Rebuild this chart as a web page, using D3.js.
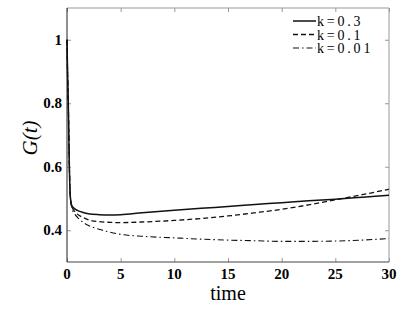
<html>
<head>
<script src="https://d3js.org/d3.v7.min.js"></script>
<style>
  body { margin: 0; background: #fff; }
  .axis .domain { display: none; }
  .axis line { stroke: #999; }
  text { font-family: "Liberation Serif", "Times New Roman", "DejaVu Serif", "Noto Serif", serif; }
</style>
</head>
<body>
<div id="chart"></div>
<script>
// data
const times   = [0, 0.05, 0.12, 0.22, 0.3, 0.45, 0.7, 1, 1.5, 2, 3, 4, 5, 7, 10, 12.5, 15, 17.5, 20, 22.5, 25, 27.5, 30];
const gK03    = [1, 0.9, 0.8, 0.6, 0.51, 0.478, 0.468, 0.462, 0.456, 0.452, 0.449, 0.448, 0.449, 0.455, 0.463, 0.469, 0.475, 0.481, 0.487, 0.493, 0.498, 0.504, 0.51];
const gK01    = [1, 0.9, 0.8, 0.6, 0.51, 0.475, 0.46, 0.45, 0.44, 0.433, 0.427, 0.425, 0.424, 0.426, 0.431, 0.437, 0.445, 0.455, 0.466, 0.48, 0.496, 0.512, 0.529];
const gK001   = [1, 0.9, 0.8, 0.6, 0.51, 0.47, 0.452, 0.44, 0.425, 0.415, 0.403, 0.394, 0.387, 0.381, 0.376, 0.372, 0.369, 0.367, 0.365, 0.365, 0.366, 0.369, 0.374];
const seriesNames = ["k=0.3", "k=0.1", "k=0.01"];
const xTicks = [0, 5, 10, 15, 20, 25, 30];
const yTicks = [0.4, 0.6, 0.8, 1];

const width = 415, height = 312;
const margins = {top: 8, right: 26, bottom: 50, left: 67};
const chartWidth = width - margins.left - margins.right;
const chartHeight = height - margins.top - margins.bottom;

const svg = d3.select("#chart").append("svg")
  .attr("width", width).attr("height", height);
const chartArea = svg.append("g")
  .attr("transform", `translate(${margins.left}, ${margins.top})`);

const xScale = d3.scaleLinear().domain([0, 30]).range([0, chartWidth]);
const yScale = d3.scaleLinear().domain([0.3, 1.1]).range([chartHeight, 0]);

// inward ticks on all four sides
chartArea.append("g").attr("class", "axis")
  .attr("transform", `translate(0, ${chartHeight})`)
  .call(d3.axisBottom(xScale).tickValues(xTicks).tickSize(-4).tickFormat(""));
chartArea.append("g").attr("class", "axis")
  .call(d3.axisTop(xScale).tickValues(xTicks).tickSize(-4).tickFormat(""));
chartArea.append("g").attr("class", "axis")
  .call(d3.axisLeft(yScale).tickValues(yTicks).tickSize(-4).tickFormat(""));
chartArea.append("g").attr("class", "axis")
  .attr("transform", `translate(${chartWidth}, 0)`)
  .call(d3.axisRight(yScale).tickValues(yTicks).tickSize(-4).tickFormat(""));

// frame
chartArea.append("line").attr("x1", 0).attr("x2", chartWidth).attr("y1", 0).attr("y2", 0).attr("stroke", "#999");
chartArea.append("line").attr("x1", chartWidth).attr("x2", chartWidth).attr("y1", 0).attr("y2", chartHeight).attr("stroke", "#999");
chartArea.append("line").attr("x1", 0).attr("x2", chartWidth).attr("y1", chartHeight).attr("y2", chartHeight).attr("stroke", "#444");
chartArea.append("line").attr("x1", 0).attr("x2", 0).attr("y1", 0).attr("y2", chartHeight).attr("stroke", "#222");

// tick labels
chartArea.selectAll("text.xt").data(xTicks).join("text")
  .attr("class", "xt")
  .attr("x", d => xScale(d)).attr("y", chartHeight + 17)
  .attr("text-anchor", "middle")
  .style("font-weight", "bold").style("font-size", "15px")
  .text(d => d);
chartArea.selectAll("text.yt").data(yTicks).join("text")
  .attr("class", "yt")
  .attr("x", -5).attr("y", d => yScale(d) + 5)
  .attr("text-anchor", "end")
  .style("font-weight", "bold").style("font-size", "15px")
  .text(d => d);

// axis titles
svg.append("text")
  .attr("x", margins.left + chartWidth / 2).attr("y", 300)
  .attr("text-anchor", "middle")
  .style("font-size", "20px")
  .text("time");
svg.append("text")
  .attr("transform", "translate(37, 138) rotate(-90)")
  .attr("text-anchor", "middle")
  .style("font-style", "italic").style("font-size", "21px")
  .text("G(t)");

// curves
const series = [gK03, gK01, gK001];
const dashes = [null, "5,3", "6,3,1.5,3"];
const widths = [1.5, 1.3, 1.1];
const lineGen = d3.line()
  .x((d, i) => xScale(times[i]))
  .y(d => yScale(d))
  .curve(d3.curveMonotoneX);

series.forEach((s, i) => {
  chartArea.append("path")
    .datum(s)
    .attr("fill", "none")
    .attr("stroke", "#111")
    .attr("stroke-width", widths[i])
    .attr("stroke-dasharray", dashes[i])
    .attr("d", lineGen);
});

// legend
const legend = svg.append("g").attr("transform", "translate(293, 21)");
seriesNames.forEach((name, i) => {
  legend.append("line")
    .attr("x1", 0).attr("x2", 23).attr("y1", i * 13.5).attr("y2", i * 13.5)
    .attr("stroke", "#111").attr("stroke-width", widths[i])
    .attr("stroke-dasharray", dashes[i]);
  legend.append("text")
    .attr("x", 24).attr("y", i * 13.5 + 5)
    .style("font-size", "14px")
    .style("letter-spacing", "2.8px")
    .text(name);
});
</script>
</body>
</html>
